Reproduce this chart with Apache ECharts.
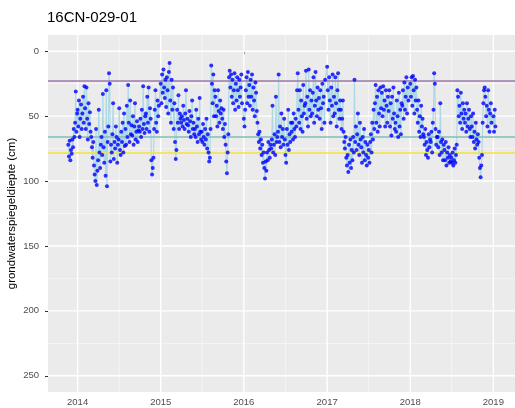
<!DOCTYPE html>
<html>
<head>
<meta charset="utf-8">
<script src="https://cdn.jsdelivr.net/npm/echarts@6/dist/echarts.min.js"></script>
<style>
  html, body { margin: 0; padding: 0; background: #fff; }
  #chart { width: 515px; height: 408px; }
</style>
</head>
<body>
<div id="chart"></div>
<script>
  const title = '16CN-029-01'
  const yName = 'grondwaterspiegeldiepte (cm)'
  const yTicks = [0, 50, 100, 150, 200, 250]
  const yMinor = [25, 75, 125, 175, 225]
  const yRange = [-12.5, 262.5]
  const xTicks = ['2014-01-01', '2015-01-01', '2016-01-01', '2017-01-01', '2018-01-01', '2019-01-01']
  const xMinor = ['2014-07-02', '2015-07-02', '2016-07-02', '2017-07-02', '2018-07-02']
  const xRange = ['2013-08-24', '2019-04-06']
  const refLevels = [22.5, 66.1, 78.4]
  const refColors = ['#9b79a8', '#80bfb8', '#f2e33c']

  // readings every 3 days from each start date (one line per month)
  const start2013 = '2013-11-21'
  const levels2013 = [
    72, 81, 69, 84,
    76, 79, 68, 74, 60, 66, 55, 31, 62, 48
  ]
  const start2014 = '2014-01-01'
  const levels2014 = [
    45, 58, 38, 66, 52, 41, 60, 48, 35, 55,
    27, 44, 60, 28, 52, 68, 40, 56, 47, 62,
    66, 74, 82, 70, 88, 95, 100, 60, 103, 92,
    84, 45, 78, 90, 72, 66, 80, 33, 74, 86,
    62, 96, 30, 104, 70, 58, 17, 25, 85, 72,
    78, 64, 40, 83, 70, 75, 58, 66, 86, 72,
    68, 44, 76, 80, 62, 70, 55, 78, 48, 73,
    60, 72, 42, 66, 26, 55, 70, 38, 64, 57,
    65, 50, 72, 58, 40, 68, 62, 54, 70, 61,
    58, 62, 52, 66, 45, 60, 27, 56, 63, 50,
    48, 60, 35, 55, 28, 62, 44, 52, 84, 95,
    90, 82, 60, 45, 30, 55, 62, 38, 50, 42
  ]
  const start2015 = '2015-01-01'
  const levels2015 = [
    25, 40, 18, 32, 14, 28, 36, 22, 43, 20,
    30, 48, 16, 9, 38, 55, 22, 45, 28, 60,
    40, 70, 83, 76, 45, 55, 34, 60, 48, 52,
    55, 50, 58, 42, 53, 60, 48, 30, 56, 52,
    57, 62, 46, 54, 66, 50, 38, 60, 55, 64,
    60, 66, 45, 58, 70, 52, 64, 36, 62, 68,
    62, 70, 56, 66, 72, 60, 68, 52, 75, 64,
    78, 85, 82, 60, 11, 25, 40, 18, 50, 30,
    35, 50, 42, 58, 30, 46, 55, 38, 48, 44,
    52, 60, 45, 66, 56, 72, 85, 94, 78, 64,
    20, 15, 28, 18, 35, 22, 40, 30, 17, 45,
    25, 38, 20, 30, 43, 22, 35, 28, 18, 40
  ]
  const start2016 = '2016-01-01'
  const levels2016 = [
    52, 58, 45, 30, 20, 40, 16, 35, 26, 42,
    22, 35, 18, 45, 28, 38, 50, 24, 32, 46,
    55, 64, 70, 62, 75, 68, 80, 72, 86, 78,
    90, 98, 85, 92, 78, 84, 70, 76, 82, 72,
    75, 68, 42, 78, 72, 64, 80, 35, 70, 66,
    62, 18, 70, 58, 74, 48, 66, 60, 72, 52,
    68, 80, 86, 60, 72, 45, 76, 64, 70, 55,
    62, 55, 68, 48, 60, 66, 52, 58, 30, 17,
    45, 55, 30, 60, 38, 50, 62, 26, 48, 42,
    40, 15, 52, 35, 58, 14, 45, 30, 50, 38,
    48, 32, 20, 55, 42, 16, 38, 50, 28, 45,
    36, 52, 30, 44, 60, 25, 40, 35, 55, 22
  ]
  const start2017 = '2017-01-01'
  const levels2017 = [
    12, 30, 45, 20, 38, 55, 28, 42, 18, 50,
    35, 48, 20, 40, 58, 30, 17, 45, 52, 38,
    45, 60, 52, 38, 62, 70, 75, 66, 82, 88,
    80, 93, 72, 86, 68, 90, 76, 84, 66, 78,
    22, 70, 58, 76, 64, 48, 72, 80, 55, 68,
    74, 86, 66, 78, 60, 84, 70, 80, 88, 72,
    82, 76, 86, 70, 64, 78, 55, 68, 45, 60,
    40, 26, 55, 35, 62, 30, 48, 58, 28, 44,
    32, 50, 27, 45, 38, 58, 30, 42, 55, 35,
    46, 30, 58, 40, 65, 35, 52, 28, 48, 60,
    55, 62, 38, 50, 66, 32, 58, 45, 64, 40,
    42, 30, 52, 24, 45, 35, 20, 48, 28, 38
  ]
  const start2018 = '2018-01-01'
  const levels2018 = [
    25, 35, 20, 42, 19, 30, 48, 22, 38, 28,
    45, 55, 38, 62, 50, 66, 42, 58, 52, 64,
    66, 72, 60, 80, 70, 76, 82, 64, 74, 68,
    70, 62, 78, 55, 45, 17, 25, 60, 72, 66,
    66, 74, 62, 80, 40, 70, 78, 68, 84, 72,
    76, 84, 70, 88, 78, 82, 74, 86, 80, 85,
    82, 86, 78, 88, 84, 75, 86, 80, 72, 30,
    35, 50, 42, 55, 32, 48, 60, 40, 52, 45,
    55, 48, 62, 40, 58, 52, 45, 60, 66, 50,
    58, 66, 48, 70, 62, 75, 55, 68, 72, 64,
    70, 82, 90, 97, 88, 80, 55, 40, 30, 28,
    35, 50, 42, 58, 30, 45, 62, 48, 40, 55
  ]
  const start2019 = '2019-01-01'
  const levels2019 = [50, 62, 45, 58]

  const day = 864e5
  const ts = d => Date.parse(d + 'T00:00:00Z')
  function toPoints (start, values) {
    let t0 = ts(start)
    return values.map((v, i) => [t0 + i * 3 * day, v])
  }
  let points = [].concat(
    toPoints(start2013, levels2013),
    toPoints(start2014, levels2014),
    toPoints(start2015, levels2015),
    toPoints(start2016, levels2016),
    toPoints(start2017, levels2017),
    toPoints(start2018, levels2018),
    toPoints(start2019, levels2019)
  )

  const font = '"Liberation Sans", Arial, sans-serif'
  const xMin = ts(xRange[0])
  const xMax = ts(xRange[1])

  let option = {
    animation: false,
    backgroundColor: '#fff',
    textStyle: { fontFamily: font },
    title: {
      text: title,
      left: 47,
      top: 10,
      padding: 0,
      textStyle: { fontFamily: font, fontSize: 15, fontWeight: 'normal', color: '#000' }
    },
    grid: {
      left: 48, right: 0, top: 35, bottom: 16,
      show: false
    },
    xAxis: {
      type: 'value',
      min: xMin,
      max: xMax,
      axisLine: { show: false },
      axisTick: { show: true, customValues: xTicks.map(ts), length: 3, lineStyle: { color: '#333' } },
      axisLabel: {
        customValues: xTicks.map(ts),
        formatter: v => String(new Date(v).getUTCFullYear()),
        color: '#4d4d4d', fontSize: 9.5, margin: 5, fontFamily: font
      },
      splitLine: { show: false }
    },
    yAxis: {
      type: 'value',
      inverse: true,
      min: yRange[0],
      max: yRange[1],
      axisLine: { show: false },
      axisTick: { show: true, customValues: yTicks, length: 3, lineStyle: { color: '#333' } },
      axisLabel: { customValues: yTicks, color: '#4d4d4d', fontSize: 9.5, margin: 9, fontFamily: font },
      splitLine: { show: false }
    },
    series: [
      {
        name: 'lijn',
        type: 'line',
        data: points,
        showSymbol: false,
        z: 3,
        lineStyle: { color: '#add8e6', width: 1.2 }
      },
      {
        name: 'referentie',
        type: 'line',
        data: [],
        z: 4,
        markLine: {
          silent: true,
          symbol: ['none', 'none'],
          label: { show: false },
          emphasis: { disabled: true },
          data: refLevels.map((v, i) => ({ yAxis: v, lineStyle: { color: refColors[i], width: 1.6, type: 'solid' } }))
        }
      },
      {
        name: 'grondwaterstand',
        type: 'scatter',
        data: points,
        z: 5,
        symbolSize: 4,
        itemStyle: { color: '#0000ff' }
      }
    ]
  }

  let dom = echarts.init(document.getElementById('chart'))
  dom.setOption(option)

  // ggplot style grey panel and grid, placed through the axes
  const toPx = (x, y) => dom.convertToPixel({ gridIndex: 0 }, [x, y])
  let topLeft = toPx(xMin, yRange[0])
  let bottomRight = toPx(xMax, yRange[1])
  let panelW = bottomRight[0] - topLeft[0]
  let panelH = bottomRight[1] - topLeft[1]
  let gridEls = [{
    type: 'rect', z: 0, silent: true,
    shape: { x: topLeft[0], y: topLeft[1], width: panelW, height: panelH },
    style: { fill: '#ebebeb' }
  }]
  // grid lines drawn as thin filled rectangles
  function addLines (yVals, xVals, width, color) {
    yVals.forEach(v => {
      let y = toPx(xMin, v)[1]
      gridEls.push({ type: 'rect', z: 1, silent: true,
        shape: { x: topLeft[0], y: y - width / 2, width: panelW, height: width },
        style: { fill: color } })
    })
    xVals.forEach(t => {
      let x = toPx(t, 0)[0]
      gridEls.push({ type: 'rect', z: 1, silent: true,
        shape: { x: x - width / 2, y: topLeft[1], width: width, height: panelH },
        style: { fill: color } })
    })
  }
  addLines(yMinor, xMinor.map(ts), 0.8, '#f7f7f7')
  addLines(yTicks, xTicks.map(ts), 1.4, '#ffffff')
  gridEls.push({
    type: 'text', x: 12, y: 213.5, rotation: Math.PI / 2, z: 10,
    style: { text: yName, font: '11.5px ' + font, fill: '#000', align: 'center', verticalAlign: 'middle' }
  })
  dom.setOption({ graphic: gridEls })
</script>
</body>
</html>
